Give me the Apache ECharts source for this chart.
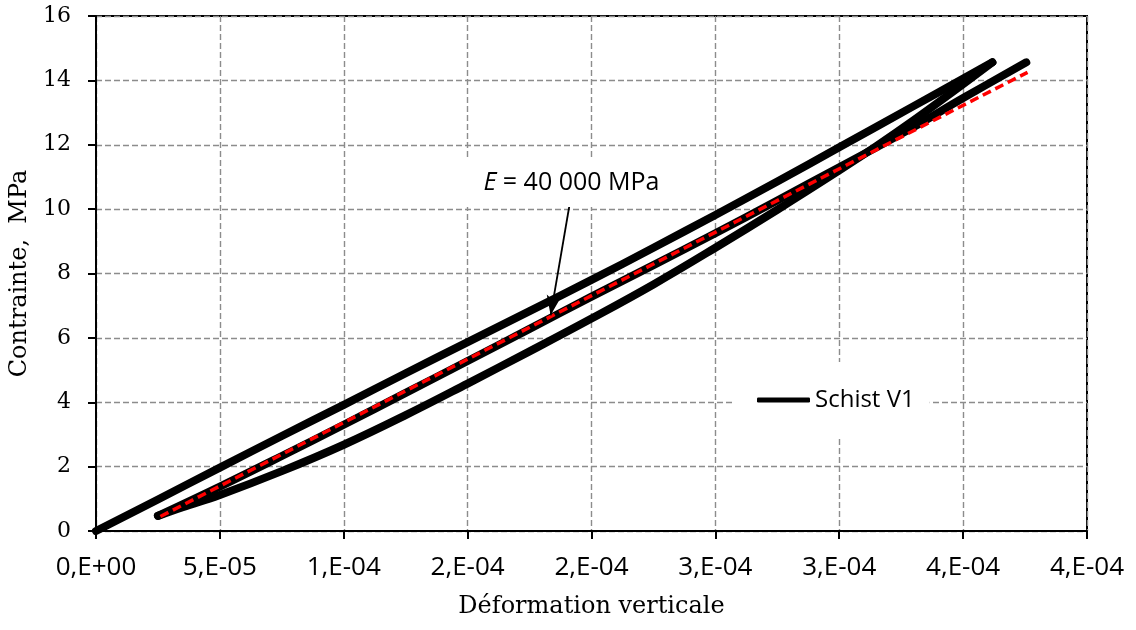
<!DOCTYPE html>
<html>
<head>
<meta charset="utf-8">
<script src="https://cdn.jsdelivr.net/npm/echarts@6/dist/echarts.min.js"></script>
<style>
html,body{margin:0;padding:0;background:#fff;}
#c{width:1136px;height:630px;}
</style>
</head>
<body>
<div id="c"></div>
<script>
// ---- tick labels (Excel "0,E+00" format) ----
const xTickLabels = ['0,E+00','5,E-05','1,E-04','2,E-04','2,E-04','3,E-04','3,E-04','4,E-04','4,E-04'];
const yTickLabels = ['0','2','4','6','8','10','12','14','16'];

// ---- Schist V1 : first loading (from origin up to first peak) ----
const loadStrain = [0, 0.25e-4, 0.5e-4, 0.75e-4, 1.0e-4, 1.25e-4, 1.5e-4, 1.75e-4, 2.0e-4, 2.25e-4, 2.5e-4, 2.75e-4, 3.0e-4, 3.3e-4, 3.618e-4];
const loadStress = [0, 0.98, 1.97, 2.95, 3.92, 4.9, 5.87, 6.83, 7.8, 8.8, 9.82, 10.86, 11.92, 13.2, 14.56];

// ---- Schist V1 : unloading (from first peak down to the lower tip) ----
const unloadStrain = [3.618e-4, 3.45e-4, 3.3e-4, 3.15e-4, 3.0e-4, 2.75e-4, 2.5e-4, 2.25e-4, 2.0e-4, 1.75e-4, 1.5e-4, 1.25e-4, 1.0e-4, 0.75e-4, 0.5e-4, 0.35e-4, 0.25e-4];
const unloadStress = [14.56, 13.6, 12.76, 11.96, 11.2, 9.98, 8.8, 7.66, 6.6, 5.58, 4.58, 3.6, 2.68, 1.86, 1.12, 0.74, 0.47];

// ---- Schist V1 : reloading (from lower tip up to second peak) ----
const reloadStrain = [0.25e-4, 0.5e-4, 0.75e-4, 1.0e-4, 1.25e-4, 1.5e-4, 1.75e-4, 2.0e-4, 2.25e-4, 2.5e-4, 2.75e-4, 3.0e-4, 3.3e-4, 3.5e-4, 3.755e-4];
const reloadStress = [0.47, 1.38, 2.33, 3.3, 4.29, 5.28, 6.28, 7.28, 8.26, 9.25, 10.27, 11.3, 12.55, 13.45, 14.56];

// ---- linear fit (E = 40 000 MPa) ----
const fitStrain = [0.26e-4, 3.76e-4];
const fitStress = [0.45, 14.25];

// ---- annotation ----
const annotText = ['E', ' = 40 000 MPa'];
const annotAnchor = [1.915e-4, 10.83];
const arrowFrom = [1.911e-4, 10.12];
const arrowTo = [1.835e-4, 6.70];

const seriesName = 'Schist V1';
const axisTitleX = 'Déformation verticale';
const axisTitleY = 'Contrainte,  MPa';

function zip(xs, ys){ return xs.map((x,i)=>[x, ys[i]]); }

const gridLine = {color:'#8c8c8c', type:[6,3], width:1.4};
const serif = 'DejaVu Serif';
const sans = 'Open Sans';
const loopStyle = {color:'#000', width:8, cap:'round', join:'round'};

function loopSeries(xs, ys){
  return {
    name:seriesName, type:'line', data:zip(xs, ys), showSymbol:false, smooth:0.4, z:2,
    lineStyle:loopStyle, itemStyle:{color:'#000'}
  };
}

const chart = echarts.init(document.getElementById('c'), null, {renderer:'canvas'});
chart.setOption({
  animation:false,
  backgroundColor:'#fff',
  grid:{left:93, right:49, top:16, bottom:99, show:true, borderColor:'#000', borderWidth:2, backgroundColor:'transparent'},
  xAxis:{
    type:'value', min:0, max:4e-4, interval:5e-5,
    axisLine:{show:true, onZero:false, lineStyle:{color:'#000', width:2}},
    axisTick:{show:true, inside:false, length:8, lineStyle:{color:'#000', width:2}},
    splitLine:{show:true, lineStyle:gridLine},
    axisLabel:{color:'#000', fontFamily:sans, fontSize:26, margin:24,
      formatter:v=>xTickLabels[Math.round(v/5e-5)]},
    name:axisTitleX, nameLocation:'middle', nameGap:64,
    nameTextStyle:{color:'#000', fontFamily:serif, fontSize:24}
  },
  yAxis:{
    type:'value', min:0, max:16, interval:2,
    axisLine:{show:true, onZero:false, lineStyle:{color:'#000', width:2}},
    axisTick:{show:true, inside:false, length:8, lineStyle:{color:'#000', width:2}},
    splitLine:{show:true, lineStyle:gridLine},
    axisLabel:{color:'#000', fontFamily:serif, fontSize:22, margin:25,
      formatter:v=>yTickLabels[Math.round(v/2)]},
    name:axisTitleY, nameLocation:'middle', nameGap:64, nameRotate:90,
    nameTextStyle:{color:'#000', fontFamily:serif, fontSize:24}
  },
  legend:{
    data:[seriesName], left:735, top:362, orient:'horizontal',
    backgroundColor:'#fff', padding:[26,15,26,22],
    icon:'roundRect', itemWidth:53, itemHeight:5, itemGap:5,
    textStyle:{color:'#000', fontFamily:sans, fontSize:24}
  },
  series:[
    loopSeries(loadStrain, loadStress),
    loopSeries(unloadStrain, unloadStress),
    loopSeries(reloadStrain, reloadStress),
    {
      name:'fit', type:'line', data:zip(fitStrain, fitStress), showSymbol:false, z:3,
      lineStyle:{color:'#ff0000', width:3.5, type:[9,5]},
      itemStyle:{color:'#ff0000'},
      markLine:{
        silent:true, animation:false, z:5,
        symbol:['none','arrow'], symbolSize:[11,20],
        lineStyle:{color:'#000', width:1.8, type:'solid'},
        label:{show:false},
        data:[[{coord:arrowFrom},{coord:arrowTo}]]
      }
    },
    {
      name:'annot', type:'scatter', data:[annotAnchor], symbolSize:0, z:6, silent:true,
      itemStyle:{opacity:1},
      label:{
        show:true, position:'inside', color:'#000', opacity:1,
        formatter:'{i|'+annotText[0]+'}{n|'+annotText[1]+'}',
        backgroundColor:'#fff', padding:[12,28,12,30],
        rich:{
          i:{fontStyle:'italic', fontFamily:sans, fontSize:25, color:'#000'},
          n:{fontFamily:sans, fontSize:25, color:'#000'}
        }
      }
    }
  ]
});
</script>
</body>
</html>
